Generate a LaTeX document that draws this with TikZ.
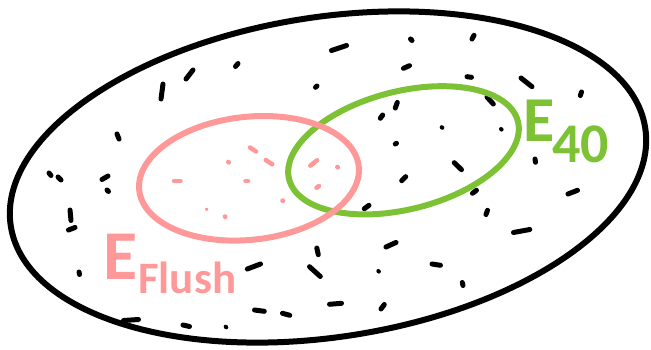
\documentclass[tikz,border=0pt]{standalone}
\usepackage{fontspec}
\usepackage{tikz}
\newfontfamily\etiqfont{Carlito}
\definecolor{rosa}{RGB}{255,153,153}
\definecolor{verd}{RGB}{124,194,52}

\begin{document}
\begin{tikzpicture}[x=1pt, y=1pt,
    vora/.style={line width=6pt},
    marca/.style={line width=5pt, line cap=round},
    marcapetita/.style={line width=4pt, line cap=round},
    marcarosa/.style={line width=4.5pt, line cap=round, rosa},
    etiqueta/.style={anchor=base west, inner sep=0pt}]
    \useasboundingbox (0,0) rectangle (651,-350);

    % Espai mostral (el·lipse gran)
    \draw[vora, black] (328,-177) ellipse [x radius=321pt, y radius=160pt, rotate=8.8];

    % Resultats: petites marques negres
    \foreach \xa/\ya/\xb/\yb in {
        186/79/193/70, 161/99/163/84, 117/134/119/139, 49/173/51/175.5,
        58/177/61/180, 102/179.5/108/176, 107/190/108.5/191.5, 70/210/71/220.5,
        68.5/230/75/227.5, 79/272/79.5/274.5, 123.5/320.5/138.5/319.5, 183/325/189.5/326.5,
        235.5/66.5/238/63.5, 331.5/50.5/346.5/45.5, 410.5/39/412/40.5, 403.5/68.3/409.5/65.7,
        315.5/87.3/317/86, 395.3/108/397.3/102.5, 380.3/118.3/382.7/115, 395.3/144/396.5/143.3,
        401.7/180.7/405.7/176.7, 472/39/474/35.3, 467/76.7/471.5/77.3, 521/78/532/86.7,
        580.3/95.5/581.5/92, 487/97/493.3/104, 535/159/535.5/162.3, 454.3/162.7/461.5/169.7,
        472.5/193.3/476.5/190.3, 568/194/577.5/190.3, 486/214.5/487.5/210.3, 513.5/232.5/529.8/229.5,
        432/264/440.5/265.3, 462.3/282.5/463/285.5, 364.3/208.7/369/205.3, 386/247/396/242.5,
        316.8/248/318.3/254.7, 247.3/269/260.5/264, 309.5/266.7/320.3/276.5, 329.5/304.3/341.5/303.3,
        381/309/384.3/304.5, 254.5/310/264.3/311.3, 282.5/313.3/289.8/315.3
    } {
        \draw[marca] (\xa,-\ya) -- (\xb,-\yb);
    }

    % Punts molt petits
    \foreach \x/\y in {441.7/127.2, 501/129, 378.3/271, 225.7/326.7} {
        \draw[marcapetita] (\x,-\y) -- (\x+0.6,-\y-0.6);
    }

    % Resultats dins del succes rosa
    \foreach \xa/\ya/\xb/\yb in {
        250/147.5/256/151.5, 265.7/160/272.3/164.3, 228.2/162/228.8/162.4, 174/181/180.5/181,
        245.5/181/248/181, 310.3/165.7/317/160.3, 337.3/167/337.9/167.3, 316.5/187.8/319/186,
        282.5/200.5/283/200.8, 225/216.4/225.2/217
    } {
        \draw[marcarosa] (\xa,-\ya) -- (\xb,-\yb);
    }
    \draw[rosa, line width=3.4pt, line cap=round] (206.5,-209.2) -- (206.9,-209.5);

    % Succes E_40 (verd) i succes E_Flush (rosa)
    \draw[vora, verd] (403.5,-150.3) ellipse [x radius=118pt, y radius=59pt, rotate=14.2];
    \draw[vora, rosa] (249,-178.3) ellipse [x radius=110.4pt, y radius=61.5pt, rotate=6.2];

    % Etiquetes
    \node[etiqueta, text=rosa, font={\etiqfont\bfseries\fontsize{70pt}{70pt}\selectfont}]
        (lletraflush) at (103,-279) {E};
    \node[etiqueta, text=rosa, font={\etiqfont\bfseries\fontsize{45pt}{45pt}\selectfont}]
        (subflush) at (138,-293) {Flush};
    \node[etiqueta, text=verd, font={\etiqfont\bfseries\fontsize{64pt}{64pt}\selectfont}]
        (lletraquaranta) at (523,-142) {E};
    \node[etiqueta, text=verd, font={\etiqfont\bfseries\fontsize{56pt}{56pt}\selectfont}]
        (subquaranta) at (552,-163) {40};

\end{tikzpicture}
\end{document}
